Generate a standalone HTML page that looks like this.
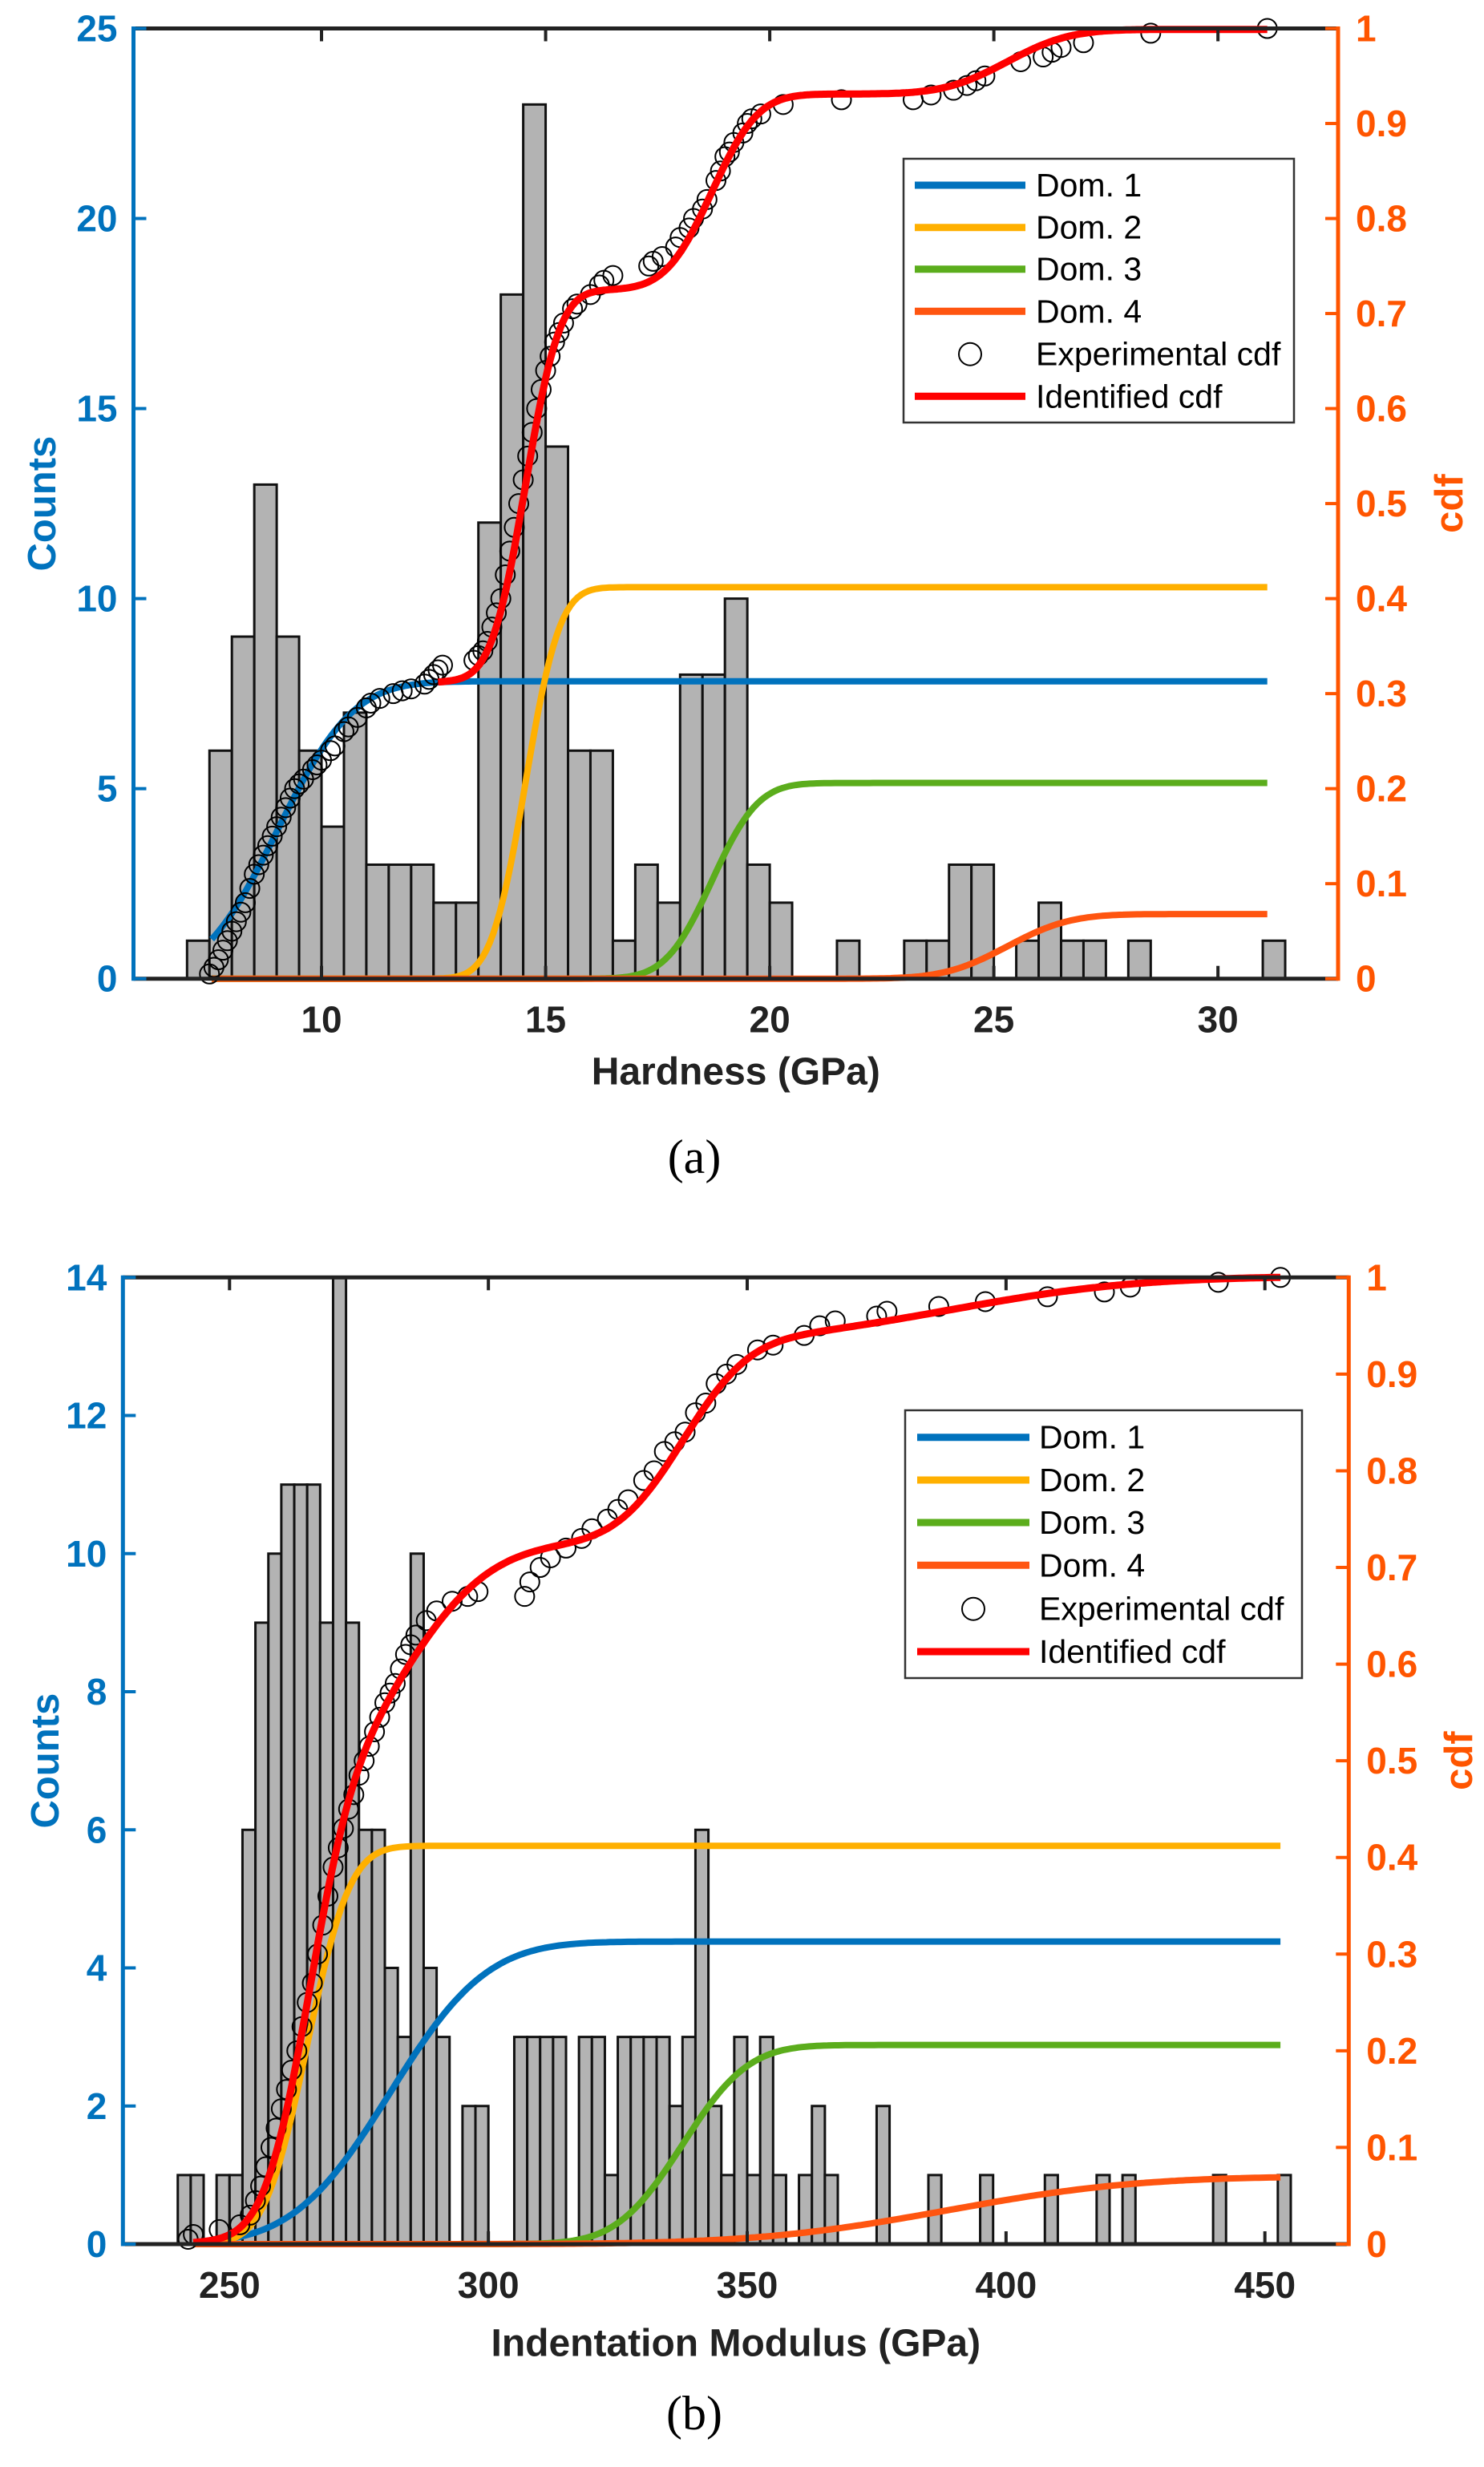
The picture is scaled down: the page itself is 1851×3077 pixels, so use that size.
<!DOCTYPE html>
<html><head><meta charset="utf-8"><style>
html,body{margin:0;padding:0;background:#fff;}
svg{display:block;font-family:"Liberation Sans",Arial,sans-serif;}
</style></head><body>
<svg id="fig" xmlns="http://www.w3.org/2000/svg" width="1851" height="3077" viewBox="0 0 1851 3077"></svg>
<script>
// ---------- Panel (a) data ----------
const aBinStart = 7.0;
const aBinWidth = 0.5;
const aCounts = [1,6,9,13,9,6,4,7,3,3,3,2,2,12,18,23,14,6,6,1,3,2,8,8,10,3,2,0,0,1,0,0,1,1,3,3,0,1,2,1,1,0,1,0,0,0,0,0,1];
const aXTicks = [10,15,20,25,30];
const aYTicks = [0,5,10,15,20,25];
const aDomMeans = [9.02,14.55,18.71,25.3];
const aDomSigmas = [1.32,0.6,0.81,1.1];
const aDomWeights = [0.313,0.412,0.206,0.068];
const aExpX = [7.5,7.6,7.7,7.8,7.9,8.0,8.1,8.2,8.3,8.4,8.5,8.6,8.7,8.8,8.9,9.0,9.1,9.2,9.3,9.4,9.5,9.6,9.8,9.9,10.0,10.2,10.3,10.5,10.6,10.8,11.0,11.1,11.3,11.6,11.8,12.0,12.3,12.4,12.5,12.6,12.7,13.4,13.5,13.6,13.7,13.8,13.9,14.0,14.1,14.2,14.3,14.4,14.5,14.6,14.7,14.8,14.9,15.0,15.1,15.2,15.3,15.4,15.6,15.7,16.0,16.2,16.3,16.5,17.3,17.4,17.6,17.9,18.0,18.2,18.3,18.5,18.6,18.8,18.9,19.0,19.1,19.2,19.4,19.5,19.6,19.8,20.3,21.6,23.2,23.6,24.1,24.4,24.6,24.8,25.6,26.1,26.3,26.5,27.0,28.5,31.1];
const aExpY = [0.005,0.012,0.02,0.03,0.04,0.05,0.06,0.07,0.08,0.095,0.11,0.12,0.13,0.14,0.15,0.16,0.17,0.18,0.19,0.2,0.205,0.21,0.22,0.225,0.23,0.24,0.245,0.26,0.265,0.275,0.285,0.29,0.295,0.3,0.303,0.305,0.31,0.315,0.32,0.325,0.33,0.335,0.34,0.345,0.355,0.37,0.385,0.4,0.425,0.45,0.475,0.5,0.525,0.55,0.575,0.6,0.62,0.64,0.655,0.67,0.68,0.69,0.705,0.71,0.72,0.73,0.735,0.74,0.75,0.755,0.76,0.77,0.78,0.79,0.8,0.81,0.82,0.84,0.85,0.865,0.87,0.88,0.89,0.9,0.905,0.91,0.92,0.925,0.925,0.93,0.935,0.94,0.945,0.95,0.965,0.97,0.975,0.98,0.985,0.995,1.0];

// ---------- Panel (b) data ----------
const bBinStart = 240;
const bBinWidth = 2.5;
const bCounts = [1,1,0,1,1,6,9,10,11,11,11,9,14,9,6,6,4,3,10,4,3,0,2,2,0,0,3,3,3,3,0,3,3,1,3,3,3,3,2,3,6,2,1,3,1,3,1,0,1,2,1,0,0,0,2,0,0,0,1,0,0,0,1,0,0,0,0,1,0,0,0,1,0,1,0,0,0,0,0,0,1,0,0,0,0,1];
const bXTicks = [250,300,350,400,450];
const bYTicks = [0,2,4,6,8,10,12,14];
const bDomMeans = [281,265,337.5,388.7];
const bDomSigmas = [14.7,6.5,10,29];
const bDomWeights = [0.313,0.412,0.206,0.07];
const bExpX = [242,243,248,252,254,255,256,257,258,259,260,261,262,263,264,265,266,267,268,269,270,271,272,273,274,275,276,277,278,279,280,281,282,283,284,285,286,288,290,293,296,298,307,308,310,312,315,318,320,323,325,327,330,332,334,336,338,340,342,344,346,348,352,355,361,364,367,375,377,387,396,408,419,424,441,453];
const bExpY = [0.005,0.01,0.015,0.02,0.03,0.045,0.06,0.08,0.1,0.12,0.14,0.16,0.18,0.2,0.225,0.25,0.27,0.3,0.33,0.36,0.39,0.41,0.43,0.45,0.465,0.485,0.5,0.515,0.53,0.545,0.56,0.57,0.58,0.595,0.61,0.62,0.63,0.645,0.655,0.665,0.67,0.675,0.67,0.685,0.7,0.71,0.72,0.73,0.74,0.75,0.76,0.77,0.79,0.8,0.82,0.83,0.84,0.86,0.87,0.89,0.9,0.91,0.925,0.93,0.94,0.95,0.955,0.96,0.965,0.97,0.975,0.98,0.985,0.99,0.995,1.0];

const cdfTicks = [0,0.1,0.2,0.3,0.4,0.5,0.6,0.7,0.8,0.9,1];
const domNames = ['Dom. 1','Dom. 2','Dom. 3','Dom. 4'];
const domColors = ['#0072BD','#FFB000','#5BAD1C','#FF5510'];
const NS = 'http://www.w3.org/2000/svg';
const svg = document.getElementById('fig');

function mk(tag, attrs, parent){
  const e = document.createElementNS(NS, tag);
  for (const k in attrs) e.setAttribute(k, attrs[k]);
  (parent||svg).appendChild(e);
  return e;
}
function erf(x){
  const s = x<0?-1:1; x=Math.abs(x);
  const t=1/(1+0.3275911*x);
  const y=1-(((((1.061405429*t-1.453152027)*t)+1.421413741)*t-0.284496736)*t+0.254829592)*t*Math.exp(-x*x);
  return s*y;
}
function ncdf(x,m,s){return 0.5*(1+erf((x-m)/(s*Math.SQRT2)));}

function panel(p){
  const g = mk('g',{});
  
  
  const sx = v => p.L + (v-p.xmin)/(p.xmax-p.xmin)*(p.R-p.L);
  const syL = v => p.B - v/p.ymaxL*(p.B-p.T);
  const syR = v => p.B - v*(p.B-p.T);
  p.counts.forEach((c,i)=>{
    if(c<=0) return;
    const x0 = sx(p.binStart+i*p.binWidth), x1 = sx(p.binStart+(i+1)*p.binWidth);
    const r = mk('rect',{x:x0,y:syL(c),width:x1-x0,height:syL(0)-syL(c),fill:'#b3b3b3',stroke:'#111','stroke-width':3},g);
    
    
  });
  for(let d=0; d<4; d++){
    let pts=[];
    for(let k=0;k<=300;k++){
      const x = p.cStart + (p.cEnd-p.cStart)*k/300;
      pts.push(sx(x).toFixed(1)+','+syR(p.w[d]*ncdf(x,p.m[d],p.s[d])).toFixed(1));
    }
    const pl = mk('polyline',{points:pts.join(' '),fill:'none',stroke:domColors[d],'stroke-width':8,'stroke-linejoin':'round'},g);
    
    
  }
  p.ex.forEach((x,i)=>{
    const c = mk('circle',{cx:sx(x),cy:syR(p.ey[i]),r:12,fill:'none',stroke:'#000','stroke-width':2},g);
    
    
  });
  let pts=[];
  for(let k=0;k<=400;k++){
    const x = p.rStart + (p.cEnd-p.rStart)*k/400;
    let v=0; for(let d=0;d<4;d++) v+=p.w[d]*ncdf(x,p.m[d],p.s[d]);
    pts.push(sx(x).toFixed(1)+','+syR(v).toFixed(1));
  }
  const red = mk('polyline',{points:pts.join(' '),fill:'none',stroke:'#FF0000','stroke-width':9,'stroke-linejoin':'round'},g);
  
  
  const top = mk('line',{x1:p.L,y1:p.T,x2:p.R,y2:p.T,stroke:'#222','stroke-width':5},g);
  
  
  const bot = mk('line',{x1:p.L,y1:p.B,x2:p.R,y2:p.B,stroke:'#222','stroke-width':5},g);
  
  
  const la = mk('line',{x1:p.L,y1:p.T-2.5,x2:p.L,y2:p.B+2.5,stroke:'#0072BD','stroke-width':5},g);
  
  
  const ra = mk('line',{x1:p.R,y1:p.T-2.5,x2:p.R,y2:p.B+2.5,stroke:'#FF5500','stroke-width':5},g);
  
  
  p.xticks.forEach(t=>{
    const x=sx(t);
    mk('line',{x1:x,y1:p.B,x2:x,y2:p.B-16,stroke:'#222','stroke-width':4},g);
    mk('line',{x1:x,y1:p.T,x2:x,y2:p.T+16,stroke:'#222','stroke-width':4},g);
    const tx = mk('text',{x:x,y:p.B+51,'text-anchor':'middle','dominant-baseline':'central','font-size':46,'font-weight':'bold',fill:'#222'},g);
    tx.textContent=t;
    
    
  });
  p.yticks.forEach(t=>{
    const y=syL(t);
    mk('line',{x1:p.L,y1:y,x2:p.L+16,y2:y,stroke:'#0072BD','stroke-width':4},g);
    const tx = mk('text',{x:p.L-20,y:y,'text-anchor':'end','dominant-baseline':'central','font-size':46,'font-weight':'bold',fill:'#0072BD'},g);
    tx.textContent=t;
    
    
  });
  cdfTicks.forEach(t=>{
    const y=syR(t);
    mk('line',{x1:p.R,y1:y,x2:p.R-16,y2:y,stroke:'#FF5500','stroke-width':4},g);
    const tx = mk('text',{x:p.R+22,y:y,'text-anchor':'start','dominant-baseline':'central','font-size':46,'font-weight':'bold',fill:'#FF5500'},g);
    tx.textContent=t;
    
    
  });
  const xt = mk('text',{x:(p.L+p.R)/2,y:p.xTitleY,'text-anchor':'middle','dominant-baseline':'central','font-size':48,'font-weight':'bold',fill:'#222'},g);
  xt.textContent=p.xTitle;
  
  
  const cy=(p.T+p.B)/2;
  const yl = mk('text',{x:0,y:0,transform:`translate(${p.countsX},${cy}) rotate(-90)`,'text-anchor':'middle','dominant-baseline':'central','font-size':49,'font-weight':'bold',fill:'#0072BD'},g);
  yl.textContent='Counts';
  
  
  const yr = mk('text',{x:0,y:0,transform:`translate(${p.cdfX},${cy}) rotate(-90)`,'text-anchor':'middle','dominant-baseline':'central','font-size':49,'font-weight':'bold',fill:'#FF5500'},g);
  yr.textContent='cdf';
  
  
  const cap = mk('text',{x:866,y:p.capY,'text-anchor':'middle','dominant-baseline':'central','font-size':60,'font-family':'"Liberation Serif",serif',fill:'#000'},g);
  cap.textContent=p.caption;
  
  
  const lg = mk('g',{},g);
  
  
  mk('rect',{x:p.lg.x,y:p.lg.y,width:p.lg.w,height:p.lg.h,fill:'#fff',stroke:'#333','stroke-width':2.5},lg);
  const labels=[...domNames,'Experimental cdf','Identified cdf'];
  labels.forEach((lab,i)=>{
    const y=p.lg.rows[i];
    const e = mk('g',{},lg);
    
    
    if(i===4){
      mk('circle',{cx:(p.lg.l0+p.lg.l1)/2,cy:y,r:14,fill:'none',stroke:'#000','stroke-width':2},e);
    } else {
      mk('line',{x1:p.lg.l0,y1:y,x2:p.lg.l1,y2:y,stroke:i<4?domColors[i]:'#FF0000','stroke-width':9},e);
    }
    const t = mk('text',{x:p.lg.tx,y:y,'dominant-baseline':'central','font-size':41,fill:'#000'},e);
    t.textContent=lab;
  });
}

panel({name:'hardness-panel',L:166.5,R:1669,T:35.5,B:1220.7,xmin:5.805,xmax:32.68,ymaxL:25,
  counts:aCounts,binStart:aBinStart,binWidth:aBinWidth,xticks:aXTicks,yticks:aYTicks,
  m:aDomMeans,s:aDomSigmas,w:aDomWeights,ex:aExpX,ey:aExpY,cStart:7.55,cEnd:31.1,rStart:12.6,
  xTitle:'Hardness (GPa)',xTitleY:1337,countsX:53,cdfX:1808,capY:1443,caption:'(a)',
  lg:{x:1127,y:198,w:487,h:329,rows:[231,283.7,335.7,388.3,441.7,494.3],l0:1141,l1:1279,tx:1292}});

panel({name:'modulus-panel',L:153.3,R:1682.3,T:1593.3,B:2799,xmin:229.4,xmax:466.2,ymaxL:14,
  counts:bCounts,binStart:bBinStart,binWidth:bBinWidth,xticks:bXTicks,yticks:bYTicks,
  m:bDomMeans,s:bDomSigmas,w:bDomWeights,ex:bExpX,ey:bExpY,cStart:243,cEnd:453,rStart:243,
  xTitle:'Indentation Modulus (GPa)',xTitleY:2923,countsX:57,cdfX:1820,capY:3010,caption:'(b)',
  lg:{x:1129,y:1759,w:495,h:334,rows:[1792.7,1846,1899,1952.3,2006.7,2060],l0:1144,l1:1284,tx:1296}});
</script>
</body></html>
